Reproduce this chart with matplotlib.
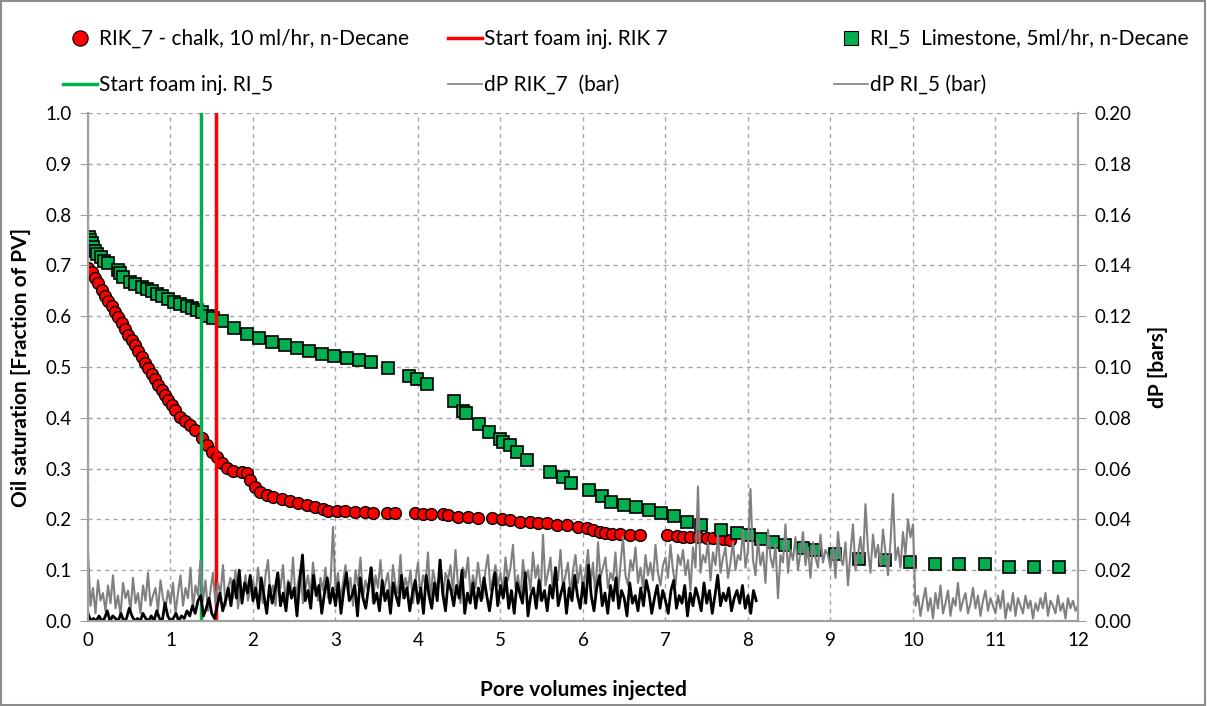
import matplotlib.pyplot as plt
import numpy as np
from matplotlib.lines import Line2D
from matplotlib.patches import Rectangle

plt.rcParams['font.family'] = ['Lato', 'DejaVu Sans']

# RIK_7 - chalk, oil saturation vs pore volumes
rik7_pv = [0.000, 0.048, 0.085, 0.121, 0.170, 0.206, 0.242, 0.291, 0.327, 0.364,
           0.412, 0.448, 0.485, 0.533, 0.570, 0.606, 0.655, 0.691, 0.727, 0.776,
           0.812, 0.848, 0.897, 0.933, 0.970, 1.018, 1.055, 1.115, 1.176, 1.236,
           1.297, 1.382, 1.442, 1.503, 1.564, 1.624, 1.685, 1.758, 1.867, 1.927,
           1.964, 2.024, 2.085, 2.170, 2.242, 2.352, 2.448, 2.545, 2.655, 2.752,
           2.848, 2.909, 3.018, 3.115, 3.236, 3.358, 3.455, 3.624, 3.721, 3.964,
           4.061, 4.158, 4.303, 4.364, 4.485, 4.606, 4.727, 4.897, 5.018, 5.115,
           5.236, 5.358, 5.455, 5.564, 5.685, 5.806, 5.939, 6.048, 6.121, 6.206,
           6.267, 6.352, 6.448, 6.570, 6.691, 7.018, 7.139, 7.212, 7.297, 7.394,
           7.503, 7.576, 7.697, 7.782]
rik7_so = [0.695, 0.687, 0.675, 0.665, 0.652, 0.640, 0.630, 0.620, 0.608, 0.598,
           0.587, 0.575, 0.563, 0.553, 0.543, 0.531, 0.520, 0.508, 0.498, 0.486,
           0.476, 0.465, 0.455, 0.445, 0.435, 0.425, 0.415, 0.402, 0.394, 0.386,
           0.376, 0.360, 0.346, 0.333, 0.323, 0.311, 0.301, 0.295, 0.293, 0.291,
           0.278, 0.264, 0.254, 0.248, 0.244, 0.240, 0.236, 0.232, 0.228, 0.224,
           0.220, 0.217, 0.217, 0.217, 0.215, 0.215, 0.213, 0.213, 0.213, 0.213,
           0.211, 0.211, 0.211, 0.209, 0.205, 0.205, 0.203, 0.203, 0.201, 0.199,
           0.195, 0.195, 0.193, 0.193, 0.189, 0.189, 0.185, 0.183, 0.179, 0.175,
           0.173, 0.171, 0.171, 0.169, 0.169, 0.169, 0.167, 0.165, 0.165, 0.165,
           0.163, 0.163, 0.161, 0.159]

# RI_5 - limestone, oil saturation vs pore volumes
ri5_pv = [0.012, 0.024, 0.048, 0.061, 0.085, 0.109, 0.158, 0.194, 0.242, 0.364,
          0.388, 0.424, 0.509, 0.570, 0.655, 0.715, 0.776, 0.836, 0.897, 0.970,
          1.042, 1.115, 1.200, 1.261, 1.321, 1.382, 1.455, 1.515, 1.624, 1.770,
          1.927, 2.073, 2.230, 2.388, 2.533, 2.679, 2.836, 2.982, 3.139, 3.285,
          3.430, 3.636, 3.891, 3.988, 4.109, 4.436, 4.545, 4.582, 4.739, 4.861,
          4.994, 5.030, 5.115, 5.200, 5.321, 5.600, 5.758, 5.855, 6.073, 6.230,
          6.339, 6.497, 6.642, 6.800, 6.945, 7.103, 7.261, 7.430, 7.673, 7.867,
          8.012, 8.158, 8.303, 8.448, 8.667, 8.812, 9.055, 9.345, 9.661, 9.964,
          10.267, 10.558, 10.873, 11.164, 11.467, 11.770]
ri5_so = [0.756, 0.750, 0.744, 0.736, 0.728, 0.722, 0.717, 0.709, 0.705, 0.691,
          0.685, 0.677, 0.667, 0.663, 0.657, 0.654, 0.650, 0.644, 0.640, 0.634,
          0.628, 0.624, 0.620, 0.616, 0.612, 0.608, 0.600, 0.596, 0.591, 0.577,
          0.565, 0.557, 0.549, 0.543, 0.537, 0.531, 0.526, 0.522, 0.518, 0.514,
          0.510, 0.498, 0.482, 0.476, 0.467, 0.433, 0.413, 0.409, 0.388, 0.372,
          0.358, 0.352, 0.346, 0.333, 0.317, 0.293, 0.283, 0.272, 0.258, 0.246,
          0.234, 0.228, 0.224, 0.219, 0.213, 0.207, 0.195, 0.189, 0.179, 0.173,
          0.169, 0.161, 0.156, 0.150, 0.144, 0.140, 0.132, 0.122, 0.120, 0.116,
          0.112, 0.112, 0.112, 0.106, 0.106, 0.106]

# start of foam injection (PV)
foam_start_rik7 = 1.55
foam_start_ri5 = 1.37

# differential pressure in mbar (30 samples per PV)
dp_rik7_mbar = [3, 0, 1, 0, 2, 0, 1, 4, 0, 2, 1, 0, 3, 0, 1, 5, 2, 0, 1, 0, 3, 1, 0, 2, 0, 4, 1, 0, 7, 2,
                0, 1, 3, 0, 2, 1, 4, 2, 6, 3, 8, 10, 2, 5, 9, 3, 1, 6, 11, 4, 8, 13, 6, 16, 9, 20, 7, 15, 11, 18,
                8, 13, 5, 17, 10, 3, 14, 7, 12, 19, 6, 11, 4, 15, 9, 13, 2, 16, 26, 8, 12, 5, 18, 10, 14, 3, 11, 17, 7, 13,
                6, 15, 3, 12, 19, 8, 10, 14, 2, 17, 9, 5, 13, 21, 7, 11, 4, 16, 8, 12, 3, 15, 10, 6, 18, 9, 13, 4, 11, 16,
                7, 13, 3, 18, 10, 5, 15, 8, 24, 11, 4, 16, 12, 6, 14, 9, 20, 3, 11, 7, 15, 5, 13, 8, 17, 10, 4, 12, 19, 6,
                14, 9, 17, 5, 12, 3, 15, 11, 7, 19, 2, 10, 13, 5, 16, 8, 12, 4, 14, 9, 21, 6, 11, 15, 3, 13, 8, 18, 10, 5,
                15, 7, 22, 10, 4, 13, 18, 6, 11, 3, 14, 8, 17, 5, 12, 9, 2, 15, 7, 10, 4, 13, 6, 16, 11, 3, 9, 14, 5, 12,
                8, 3, 12, 16, 5, 10, 7, 14, 2, 11, 6, 13, 9, 4, 15, 7, 12, 3, 10, 18, 6, 11, 8, 13, 4, 9, 12, 7, 14, 5,
                10, 3, 12, 8]
# (33 samples per PV)
dp_ri5_mbar = [27, 6, 13, 3, 16, 8, 11, 4, 14, 7, 18, 5, 10, 2, 15, 9, 12, 4, 17, 7, 11, 3, 14, 8, 19, 6, 10, 13, 4, 16, 9, 5, 12,
               7, 15, 3, 11, 18, 6, 13, 9, 21, 5, 14, 10, 24, 8, 16, 4, 12, 19, 7, 15, 11, 22, 6, 13, 17, 9, 20, 5, 14, 10, 18, 8, 13,
               16, 9, 21, 12, 7, 18, 24, 10, 14, 6, 19, 13, 22, 8, 16, 11, 25, 9, 15, 20, 7, 13, 18, 10, 23, 14, 8, 17, 12, 21, 9, 15, 37,
               12, 19, 8, 15, 22, 11, 17, 6, 20, 14, 25, 9, 16, 12, 21, 7, 18, 13, 24, 10, 15, 19, 8, 22, 14, 11, 26, 9, 17, 13, 20, 7, 16,
               23, 10, 18, 14, 27, 8, 20, 15, 12, 24, 9, 19, 16, 22, 11, 28, 14, 7, 21, 17, 25, 10, 18, 13, 23, 15, 9, 20, 26, 12, 17, 22, 14,
               19, 11, 25, 16, 21, 30, 13, 18, 9, 24, 15, 20, 12, 27, 17, 22, 8, 34, 14, 19, 25, 11, 21, 16, 28, 13, 18, 23, 10, 20, 26, 15, 22,
               12, 19, 28, 14, 23, 9, 31, 17, 21, 25, 13, 19, 16, 27, 11, 22, 33, 18, 14, 24, 20, 29, 15, 21, 13, 26, 18, 23, 16, 30, 19, 14, 22,
               25, 17, 30, 20, 14, 26, 22, 28, 18, 24, 12, 29, 21, 53, 19, 26, 23, 31, 16, 27, 22, 34, 19, 25, 29, 17, 23, 31, 20, 26, 24, 36, 21,
               28, 52, 24, 18, 32, 22, 27, 15, 36, 25, 21, 30, 9, 26, 23, 38, 19, 28, 24, 33, 20, 27, 35, 22, 29, 17, 31, 25, 21, 34, 23, 28, 26,
               21, 29, 17, 35, 25, 22, 31, 14, 27, 38, 20, 26, 33, 23, 46, 28, 19, 34, 25, 30, 22, 36, 27, 18, 31, 50, 24, 29, 21, 35, 26, 40, 33,
               38, 6, 10, 2, 8, 13, 4, 9, 1, 11, 5, 14, 3, 7, 12, 2, 9, 6, 15, 4, 8, 11, 3, 7, 13, 5, 10, 2, 8, 12, 4, 9, 6,
               3, 10, 5, 12, 1, 7, 4, 11, 2, 9, 6, 3, 10, 5, 8, 1, 7, 4, 9, 5, 11, 2, 8, 6, 3, 10, 4, 7, 1, 9, 5, 8, 4,
               6]
dp_rik7_end = 8.1   # last PV logged for RIK_7
dp_ri5_end = 12.0

green = '#00B050'
red = '#FF0000'
gray = '#808080'
gridc = '#A6A6A6'

fig = plt.figure(figsize=(12.07, 7.06), dpi=100)
ax = fig.add_axes([0.0729, 0.1204, 0.8202, 0.7195])
ax2 = ax.twinx()

ax.plot(rik7_pv, rik7_so, 'o', ms=8.5, mfc=red, mec='black', mew=1.0, zorder=3)
ax.plot(ri5_pv, ri5_so, 's', ms=9, mfc=green, mec='black', mew=1.2, zorder=3)
ax.axvline(foam_start_rik7, color=red, lw=2.5, zorder=4)
ax.axvline(foam_start_ri5, color=green, lw=2.5, zorder=4)

# dP on secondary axis
x_ri5 = np.linspace(0, dp_ri5_end, len(dp_ri5_mbar))
x_rik7 = np.linspace(0, dp_rik7_end, len(dp_rik7_mbar))
ax2.plot(x_ri5, np.array(dp_ri5_mbar) / 1000, color=gray, lw=1.5)
ax2.plot(x_rik7, np.array(dp_rik7_mbar) / 1000, color='black', lw=2.0)

ax.set_xlim(0, 12)
ax.set_ylim(0, 1.0)
ax2.set_ylim(0, 0.20)
ax.set_xticks(range(0, 13))
ax.set_yticks(np.arange(0, 1.01, 0.1))
ax2.set_yticks(np.arange(0, 0.201, 0.02))
ax.set_yticklabels([f'{v:.1f}' for v in np.arange(0, 1.01, 0.1)])
ax2.set_yticklabels([f'{v:.2f}' for v in np.arange(0, 0.201, 0.02)])

ax.grid(True, color=gridc, linestyle=(0, (3, 3)), lw=1.0)
ax.set_axisbelow(True)

for a in (ax, ax2):
    a.spines['top'].set_visible(False)
    for s in ('left', 'right', 'bottom'):
        a.spines[s].set_color('#A0A0A0')
        a.spines[s].set_linewidth(1.5)
    a.tick_params(labelsize=13.5, colors='black', length=0, pad=8)
ax2.tick_params(axis='y', length=6, color='#A0A0A0', pad=6)
ax.tick_params(axis='y', length=6, color='#A0A0A0', pad=6)

ax.set_xlabel('Pore volumes injected', fontsize=15, fontweight='bold', labelpad=22)
ax.set_ylabel('Oil saturation [Fraction of PV]', fontsize=15, fontweight='bold', labelpad=10)
ax2.set_ylabel('dP [bars]', fontsize=15, fontweight='bold', labelpad=12)

# legend: three columns, placed separately like the original
h_rik7 = Line2D([], [], ls='none', marker='o', ms=11, mfc=red, mec='black', mew=0.8)
h_ri5 = Line2D([], [], ls='none', marker='s', ms=10, mfc=green, mec='black', mew=0.8)
h_red = Line2D([], [], color=red, lw=2.5)
h_green = Line2D([], [], color=green, lw=2.5)
h_dp = Line2D([], [], color=gray, lw=1.2)

cols = [
    ([h_rik7, h_green], ['RIK_7 - chalk, 10 ml/hr, n-Decane', 'Start foam inj. RI_5'], 63),
    ([h_red, h_dp], ['Start foam inj. RIK 7', 'dP RIK_7  (bar)'], 448),
    ([h_ri5, h_dp], ['RI_5  Limestone, 5ml/hr, n-Decane', 'dP RI_5 (bar)'], 834),
]
for hs, ls, px in cols:
    leg = fig.legend(hs, ls, loc='upper left', bbox_to_anchor=(px / 1207, 1 - 29 / 706),
                     frameon=False, fontsize=15, handlelength=1.65, handletextpad=0.1,
                     labelspacing=1.25, borderpad=0, borderaxespad=0)

fig.add_artist(Rectangle((0.001, 0.001), 0.997, 0.997, transform=fig.transFigure,
                         fill=False, edgecolor='#8C8C8C', lw=1.5))

fig.savefig('out.png', dpi=100)
